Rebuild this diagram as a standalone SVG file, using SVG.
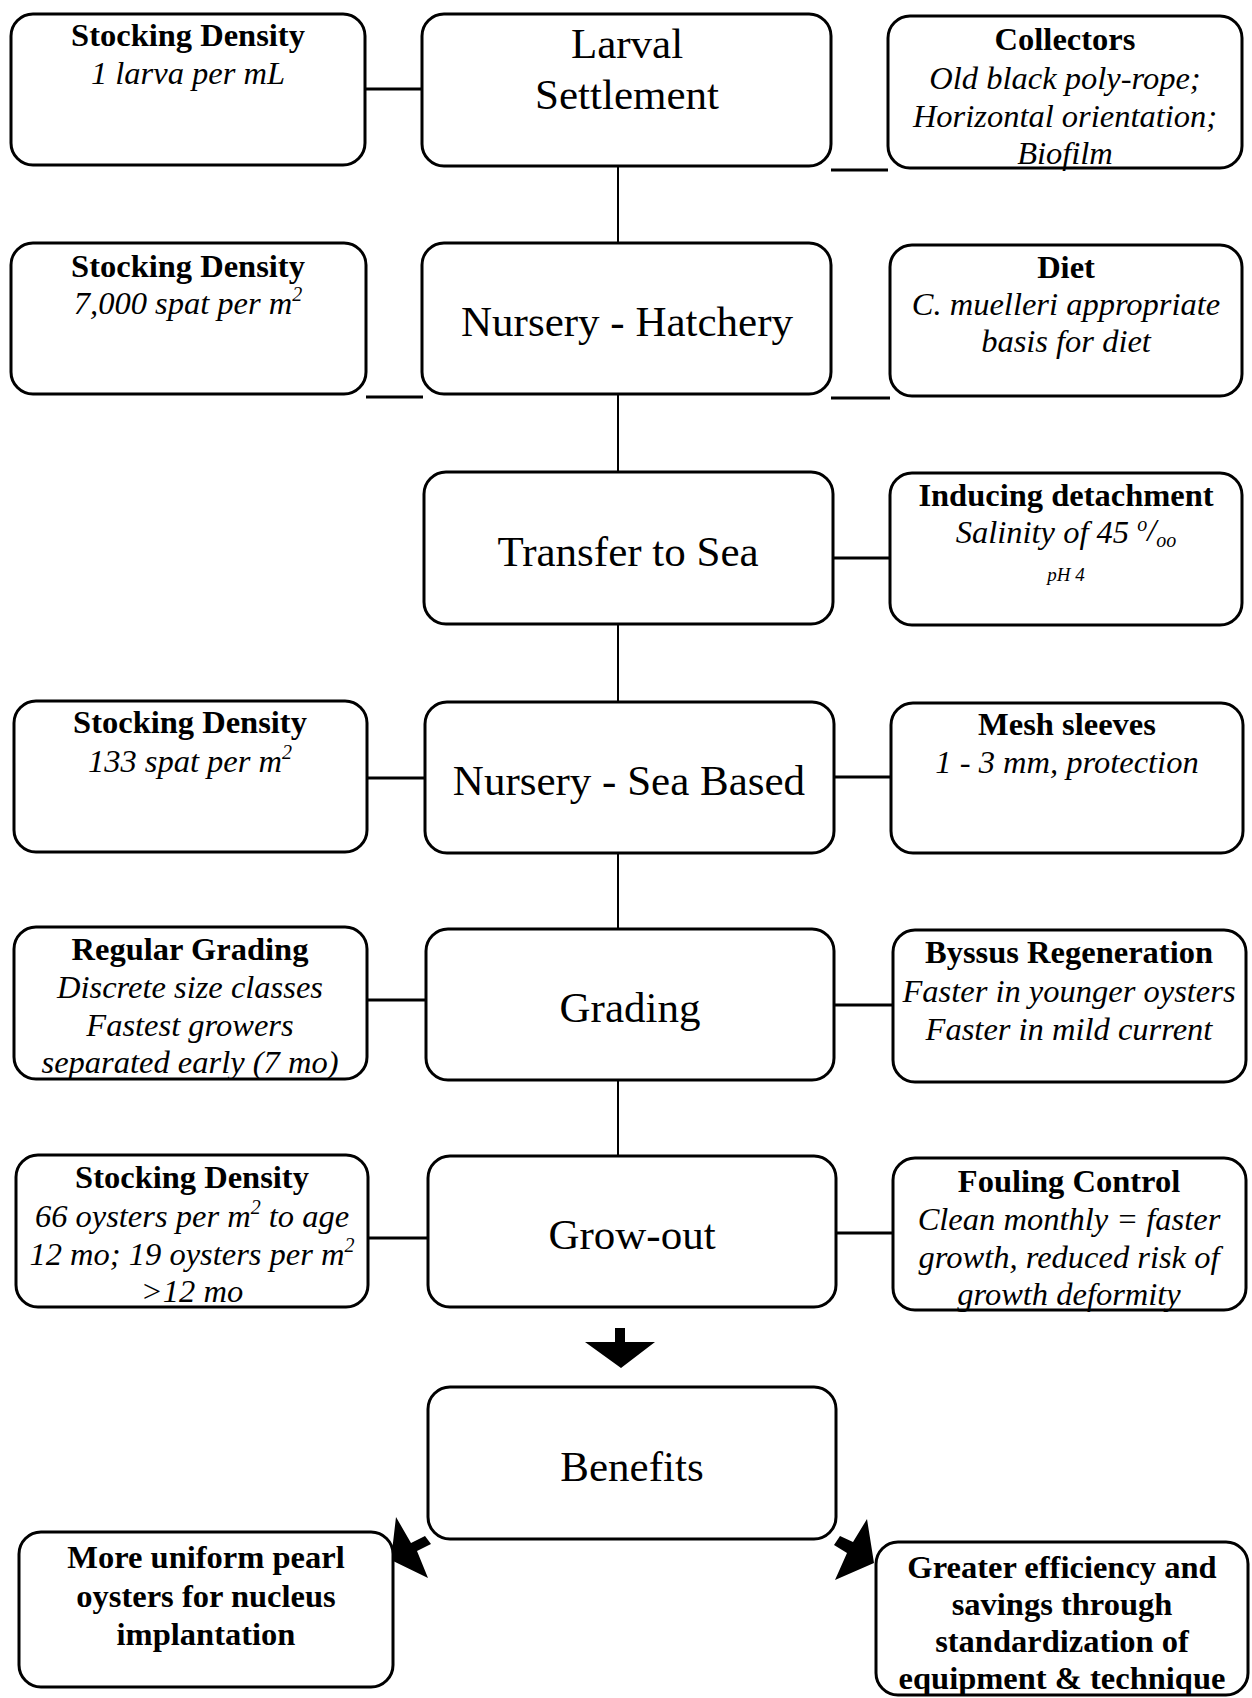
<svg xmlns="http://www.w3.org/2000/svg" width="1252" height="1698" viewBox="0 0 1252 1698">
  <style>
    .box { fill: #ffffff; stroke: #000000; stroke-width: 3; }
    .link { stroke: #000000; stroke-width: 3; fill: none; }
    .spine { stroke: #000000; stroke-width: 2; fill: none; }
    .head { fill: #000000; stroke: none; }
    text { font-family: "Liberation Serif", "Times New Roman", serif; fill: #000000; text-anchor: middle; }
    .stage { font-size: 43px; }
    .title { font-size: 32.5px; font-weight: bold; }
    .note { font-size: 32.5px; font-style: italic; }
    .small { font-size: 19px; font-style: italic; }
    .sup { font-size: 20px; }
  </style>

  <!-- connectors -->
  <g id="connectors">
    <!-- main spine -->
    <line class="spine" x1="618" y1="166" x2="618" y2="243"/>
    <line class="spine" x1="618" y1="394" x2="618" y2="472"/>
    <line class="spine" x1="618" y1="624" x2="618" y2="702"/>
    <line class="spine" x1="618" y1="853" x2="618" y2="929"/>
    <line class="spine" x1="618" y1="1080" x2="618" y2="1156"/>
    <!-- side links -->
    <line class="link" x1="365" y1="89" x2="422" y2="89"/>
    <line class="link" x1="831" y1="170" x2="888" y2="170"/>
    <line class="link" x1="366" y1="397" x2="423" y2="397"/>
    <line class="link" x1="831" y1="398" x2="890" y2="398"/>
    <line class="link" x1="833" y1="558" x2="890" y2="558"/>
    <line class="link" x1="367" y1="778" x2="425" y2="778"/>
    <line class="link" x1="834" y1="777" x2="891" y2="777"/>
    <line class="link" x1="367" y1="1000" x2="426" y2="1000"/>
    <line class="link" x1="834" y1="1005" x2="893" y2="1005"/>
    <line class="link" x1="368" y1="1238" x2="428" y2="1238"/>
    <line class="link" x1="836" y1="1233" x2="893" y2="1233"/>
    <!-- block arrows -->
    <polygon class="head" points="615,1328 625,1328 625,1342 655,1342 621,1368 585,1342 615,1342"/>
    <polygon class="head" points="391,1560 396,1517 411,1543 425,1536 431,1544 417,1551 428,1578"/>
    <polygon class="head" points="874,1563 867,1519 853,1542 840,1536 834,1545 847,1553 835,1580"/>
  </g>

  <!-- process stages -->
  <g id="stage-larval-settlement">
    <rect class="box" x="422" y="14" width="409" height="152" rx="22"/>
    <text class="stage" x="627" y="58">Larval</text>
    <text class="stage" x="627" y="109">Settlement</text>
  </g>
  <g id="stage-nursery-hatchery">
    <rect class="box" x="422" y="243" width="409" height="151" rx="22"/>
    <text class="stage" x="627" y="336">Nursery - Hatchery</text>
  </g>
  <g id="stage-transfer">
    <rect class="box" x="424" y="472" width="409" height="152" rx="22"/>
    <text class="stage" x="628" y="566">Transfer to Sea</text>
  </g>
  <g id="stage-nursery-sea">
    <rect class="box" x="425" y="702" width="409" height="151" rx="22"/>
    <text class="stage" x="629" y="795">Nursery - Sea Based</text>
  </g>
  <g id="stage-grading">
    <rect class="box" x="426" y="929" width="408" height="151" rx="22"/>
    <text class="stage" x="630" y="1022">Grading</text>
  </g>
  <g id="stage-growout">
    <rect class="box" x="428" y="1156" width="408" height="151" rx="22"/>
    <text class="stage" x="632" y="1249">Grow-out</text>
  </g>
  <g id="stage-benefits">
    <rect class="box" x="428" y="1387" width="408" height="152" rx="22"/>
    <text class="stage" x="632" y="1481">Benefits</text>
  </g>

  <!-- left-hand notes -->
  <g id="note-density-larvae">
    <rect class="box" x="11" y="14" width="354" height="151" rx="22"/>
    <text class="title" x="188" y="46">Stocking Density</text>
    <text class="note" x="188" y="84">1 larva per mL</text>
  </g>
  <g id="note-density-hatchery">
    <rect class="box" x="11" y="243" width="355" height="151" rx="22"/>
    <text class="title" x="188" y="277">Stocking Density</text>
    <text class="note" x="188" y="314">7,000 spat per m<tspan class="sup" dy="-13">2</tspan></text>
  </g>
  <g id="note-density-sea">
    <rect class="box" x="14" y="701" width="353" height="151" rx="22"/>
    <text class="title" x="190" y="733">Stocking Density</text>
    <text class="note" x="190" y="772">133 spat per m<tspan class="sup" dy="-13">2</tspan></text>
  </g>
  <g id="note-regular-grading">
    <rect class="box" x="14" y="927" width="353" height="152" rx="22"/>
    <text class="title" x="190" y="960">Regular Grading</text>
    <text class="note" x="190" y="998">Discrete size classes</text>
    <text class="note" x="190" y="1036">Fastest growers</text>
    <text class="note" x="190" y="1073">separated early (7 mo)</text>
  </g>
  <g id="note-density-growout">
    <rect class="box" x="16" y="1155" width="352" height="152" rx="22"/>
    <text class="title" x="192" y="1188">Stocking Density</text>
    <text class="note" x="192" y="1227">66 oysters per m<tspan class="sup" dy="-13">2</tspan><tspan dy="13"> to age</tspan></text>
    <text class="note" x="192" y="1265">12 mo; 19 oysters per m<tspan class="sup" dy="-13">2</tspan></text>
    <text class="note" x="192" y="1302">&gt;12 mo</text>
  </g>

  <!-- right-hand notes -->
  <g id="note-collectors">
    <rect class="box" x="888" y="16" width="354" height="152" rx="22"/>
    <text class="title" x="1065" y="50">Collectors</text>
    <text class="note" x="1065" y="89">Old black poly-rope;</text>
    <text class="note" x="1065" y="127">Horizontal orientation;</text>
    <text class="note" x="1065" y="164">Biofilm</text>
  </g>
  <g id="note-diet">
    <rect class="box" x="890" y="245" width="352" height="151" rx="22"/>
    <text class="title" x="1066" y="278">Diet</text>
    <text class="note" x="1066" y="315">C. muelleri appropriate</text>
    <text class="note" x="1066" y="352">basis for diet</text>
  </g>
  <g id="note-detachment">
    <rect class="box" x="890" y="473" width="352" height="152" rx="22"/>
    <text class="title" x="1066" y="506">Inducing detachment</text>
    <text class="note" x="1066" y="543">Salinity of 45 <tspan class="sup" dy="-12">o</tspan><tspan dy="10">/</tspan><tspan class="sup" dy="6">oo</tspan></text>
    <text class="small" x="1066" y="581">pH 4</text>
  </g>
  <g id="note-mesh">
    <rect class="box" x="891" y="703" width="352" height="150" rx="22"/>
    <text class="title" x="1067" y="735">Mesh sleeves</text>
    <text class="note" x="1067" y="773">1 - 3 mm, protection</text>
  </g>
  <g id="note-byssus">
    <rect class="box" x="893" y="930" width="353" height="152" rx="22"/>
    <text class="title" x="1069" y="963">Byssus Regeneration</text>
    <text class="note" x="1069" y="1002">Faster in younger oysters</text>
    <text class="note" x="1069" y="1040">Faster in mild current</text>
  </g>
  <g id="note-fouling">
    <rect class="box" x="893" y="1158" width="353" height="152" rx="22"/>
    <text class="title" x="1069" y="1192">Fouling Control</text>
    <text class="note" x="1069" y="1230">Clean monthly = faster</text>
    <text class="note" x="1069" y="1268">growth, reduced risk of</text>
    <text class="note" x="1069" y="1305">growth deformity</text>
  </g>

  <!-- outcomes -->
  <g id="outcome-uniform">
    <rect class="box" x="19" y="1532" width="374" height="155" rx="22"/>
    <text class="title" x="206" y="1568">More uniform pearl</text>
    <text class="title" x="206" y="1607">oysters for nucleus</text>
    <text class="title" x="206" y="1645">implantation</text>
  </g>
  <g id="outcome-efficiency">
    <rect class="box" x="876" y="1542" width="372" height="153" rx="22"/>
    <text class="title" x="1062" y="1578">Greater efficiency and</text>
    <text class="title" x="1062" y="1615">savings through</text>
    <text class="title" x="1062" y="1652">standardization of</text>
    <text class="title" x="1062" y="1689">equipment &amp; technique</text>
  </g>
</svg>
